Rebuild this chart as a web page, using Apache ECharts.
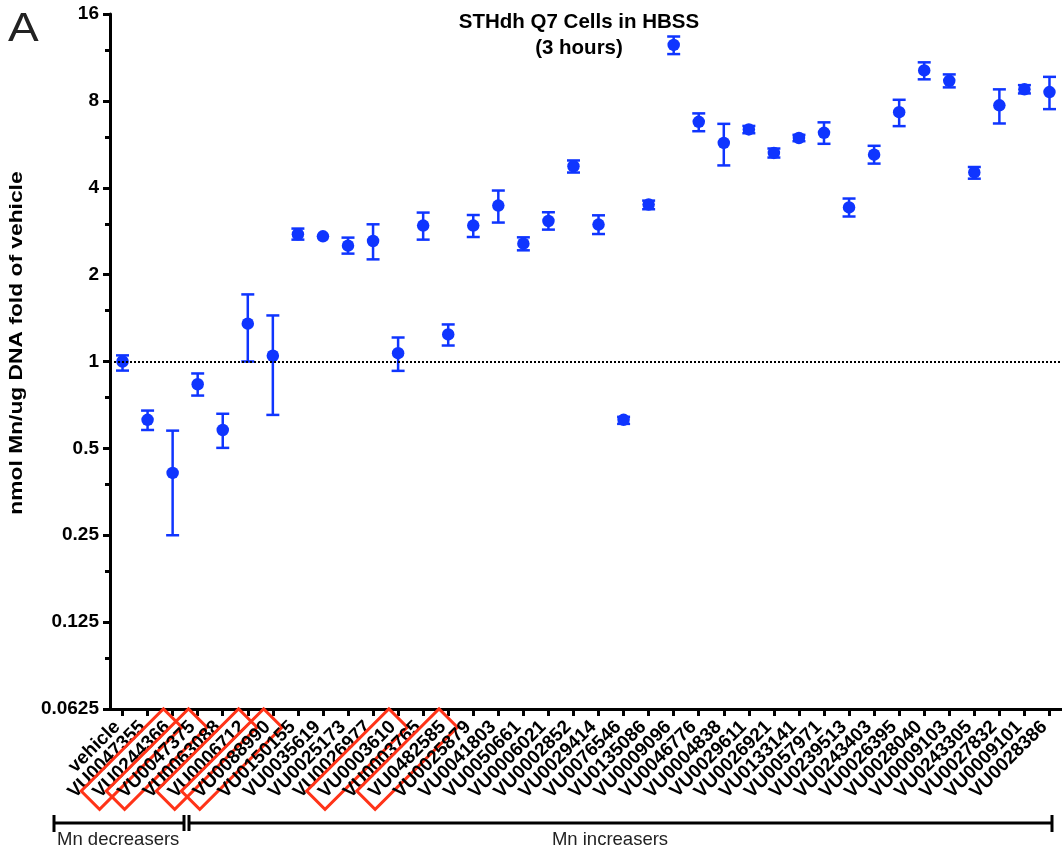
<!DOCTYPE html>
<html>
<head>
<meta charset="utf-8">
<script src="https://cdn.jsdelivr.net/npm/echarts@6/dist/echarts.min.js"></script>
<style>
html,body{margin:0;padding:0;background:#fff;}
#chart{width:1062px;height:856px;}
</style>
</head>
<body>
<div id="chart"></div>
<script>
const categories = ['vehicle','VU0047355','VU0244366','VU0047375','VU0063088','VU0006712','VU0088990','VU0150155','VU0035619','VU0025173','VU0026977','VU0003610','VU0003765','VU0482585','VU0025879','VU0041803','VU0050661','VU0006021','VU0002852','VU0029414','VU0076546','VU0135086','VU0009096','VU0046776','VU0004838','VU0029611','VU0026921','VU0133141','VU0057971','VU0239513','VU0243403','VU0026395','VU0028040','VU0009103','VU0243305','VU0027832','VU0009101','VU0028386'];
const means = [1.00,0.628,0.411,0.834,0.579,1.352,1.047,2.76,2.715,2.52,2.615,1.069,2.957,1.241,2.957,3.47,2.561,3.068,4.75,2.981,0.628,3.497,12.5,6.77,5.72,6.37,5.28,5.95,6.2,3.42,5.21,7.31,10.2,9.39,4.52,7.72,8.77,8.58];
const lows  = [0.93,0.579,0.25,0.762,0.502,1.0,0.653,2.644,null,2.365,2.259,0.928,2.644,1.136,2.70,3.03,2.428,2.864,4.516,2.765,0.608,3.37,11.62,6.28,4.78,6.18,5.09,5.8,5.68,3.18,4.85,6.54,9.5,8.91,4.3,6.68,8.49,7.49];
const highs = [1.05,0.676,0.576,0.909,0.659,1.708,1.444,2.888,null,2.687,2.988,1.211,3.281,1.344,3.218,3.912,2.693,3.29,4.973,3.21,0.643,3.61,13.37,7.24,6.66,6.55,5.47,6.1,6.74,3.67,5.59,8.07,10.88,9.88,4.72,8.77,9.07,9.69];
const boxed = ['VU0244366','VU0047375','VU0006712','VU0088990','VU0003610','VU0482585'];
const yTicks = [0.0625,0.125,0.25,0.5,1,2,4,8,16];
const titleLines = ['STHdh Q7 Cells in HBSS','(3 hours)'];
const groupLabels = ['Mn decreasers','Mn increasers'];

const BLUE = '#0f35ff';
const RED = '#ff3318';
const FONT = 'Liberation Sans, Arial, sans-serif';
const chart = echarts.init(document.getElementById('chart'));

const errData = categories.map((c,i)=>[i, lows[i], highs[i]]);

const option = {
  animation:false,
  backgroundColor:'#fff',
  textStyle:{fontFamily:FONT},
  title:{
    text: titleLines.join('\n'),
    left: 574, top: 4, textAlign:'center',
    textStyle:{fontSize:20.5,fontWeight:'bold',color:'#000',lineHeight:26,fontFamily:FONT}
  },
  grid:{left:110, top:14, width:957, height:695, containLabel:false},
  xAxis:{
    type:'category',
    data:categories,
    boundaryGap:true,
    axisLine:{lineStyle:{color:'#000',width:3}},
    axisTick:{show:true,alignWithLabel:true,length:7,lineStyle:{color:'#000',width:3}},
    axisLabel:{
      interval:0, rotate:45, margin:9,
      color:'#000', fontSize:19, fontWeight:'bold',
      formatter:(v)=> boxed.includes(v) ? '{b|'+v+'}' : '{n|'+v+'}',
      rich:{
        b:{fontSize:19,fontWeight:'bold',color:'#000',borderColor:RED,borderWidth:3,padding:[4,8,3,8]},
        n:{fontSize:19,fontWeight:'bold',color:'#000',padding:[4,8,3,8]}
      }
    },
    splitLine:{show:false}
  },
  yAxis:{
    type:'log', logBase:2, min:0.0625, max:16, interval:1,
    axisLine:{show:true,lineStyle:{color:'#000',width:3}},
    axisTick:{show:true,length:7,lineStyle:{color:'#000',width:3}},
    minorTick:{show:true,splitNumber:2,length:5,lineStyle:{color:'#000',width:3}},
    axisLabel:{color:'#000',fontSize:19,fontWeight:'bold',margin:11,
      formatter:(v)=>{ const t = yTicks.find(x=>Math.abs(x-v)/x<1e-6); return t!==undefined? String(t): ''; }},
    splitLine:{show:false},
    minorSplitLine:{show:false}
  },
  graphic:[
    {type:'text', x:8, y:10, scaleX:1.15, style:{text:'A', fontSize:40, fill:'#222', fontFamily:FONT}},
    {type:'text', x:17, y:343, rotation:Math.PI/2, scaleX:1.2,
      style:{text:'nmol Mn/ug DNA fold of vehicle', fontSize:19, fontWeight:'bold', fill:'#000', align:'center', verticalAlign:'middle', fontFamily:FONT}},
    {type:'line', shape:{x1:54,y1:815,x2:54,y2:832}, style:{stroke:'#000',lineWidth:3}},
    {type:'line', shape:{x1:54,y1:823,x2:184,y2:823}, style:{stroke:'#000',lineWidth:3}},
    {type:'line', shape:{x1:184,y1:815,x2:184,y2:831}, style:{stroke:'#000',lineWidth:3}},
    {type:'line', shape:{x1:189,y1:815,x2:189,y2:831}, style:{stroke:'#000',lineWidth:3}},
    {type:'line', shape:{x1:189,y1:823,x2:1052,y2:823}, style:{stroke:'#000',lineWidth:3}},
    {type:'line', shape:{x1:1052,y1:815,x2:1052,y2:832}, style:{stroke:'#000',lineWidth:3}},
    {type:'text', x:57, y:840, style:{text:groupLabels[0], fontSize:18.5, fill:'#222', verticalAlign:'middle', fontFamily:FONT}},
    {type:'text', x:610, y:840, style:{text:groupLabels[1], fontSize:18.5, fill:'#222', align:'center', verticalAlign:'middle', fontFamily:FONT}}
  ],
  series:[
    {
      type:'custom',
      data:errData,
      clip:false,
      renderItem:(params, api)=>{
        const lo = api.value(1), hi = api.value(2);
        if (lo == null || hi == null || isNaN(lo) || isNaN(hi)) return null;
        const idx = api.value(0);
        const pLo = api.coord([idx, lo]);
        const pHi = api.coord([idx, hi]);
        const x = pLo[0], hw = 6.5;
        const st = {stroke:BLUE, lineWidth:2.5};
        return {type:'group', children:[
          {type:'line', shape:{x1:x,y1:pLo[1],x2:x,y2:pHi[1]}, style:st},
          {type:'line', shape:{x1:x-hw,y1:pLo[1],x2:x+hw,y2:pLo[1]}, style:st},
          {type:'line', shape:{x1:x-hw,y1:pHi[1],x2:x+hw,y2:pHi[1]}, style:st}
        ]};
      },
      z:3
    },
    {
      type:'scatter',
      data:means.map((m,i)=>[i,m]),
      symbol:'circle', symbolSize:12.5,
      itemStyle:{color:BLUE, opacity:1},
      z:4,
      markLine:{
        silent:true, symbol:'none', label:{show:false},
        lineStyle:{color:'#000', type:'dotted', width:2},
        data:[{yAxis:1}]
      }
    }
  ]
};
chart.setOption(option);
</script>
</body>
</html>
